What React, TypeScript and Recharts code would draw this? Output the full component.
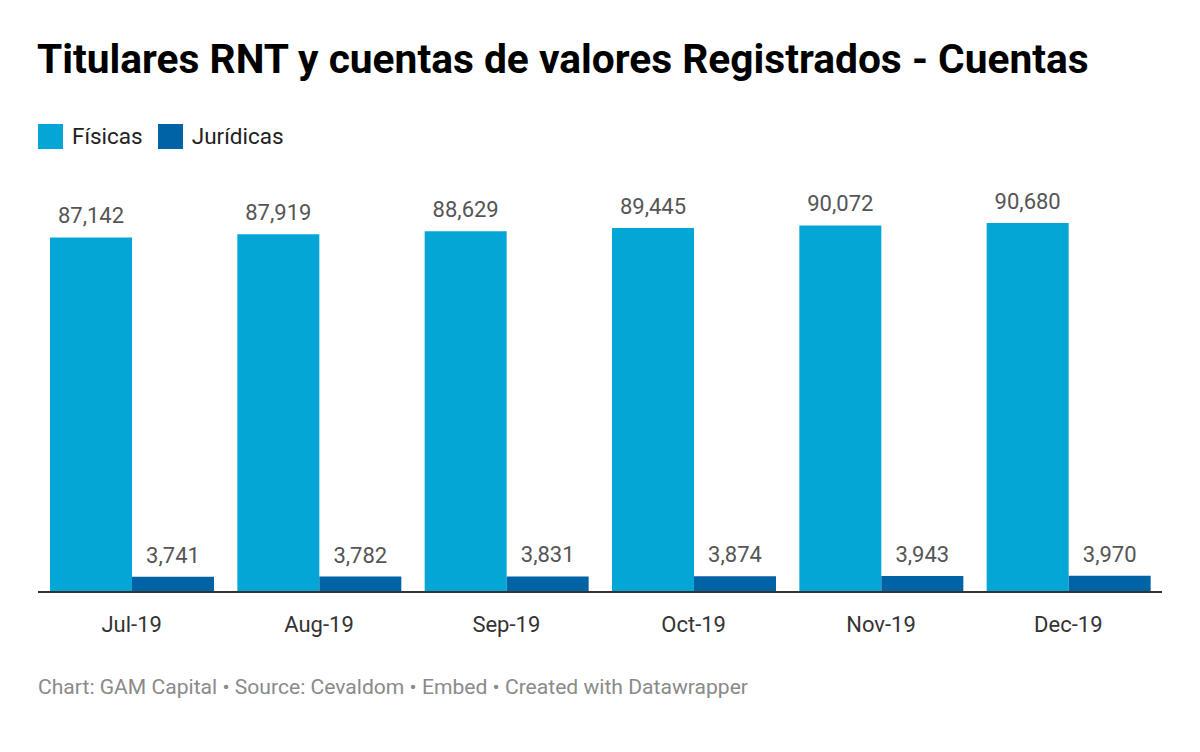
import React from 'react'
import { BarChart, Bar, XAxis, YAxis, LabelList } from 'recharts'

const months = ['Jul-19', 'Aug-19', 'Sep-19', 'Oct-19', 'Nov-19', 'Dec-19']
const fisicas = [87142, 87919, 88629, 89445, 90072, 90680]
const juridicas = [3741, 3782, 3831, 3874, 3943, 3970]

const FIS_COLOR = '#04a6d5'
const JUR_COLOR = '#0063a6'

const data = months.map((m, i) => ({ month: m, fisicas: fisicas[i], juridicas: juridicas[i] }))

const fmt = (v: number) => v.toLocaleString('en-US')

export default function App() {
  return (
    <div style={{ position: 'absolute', left: 0, top: 0, width: 1200, height: 752, background: '#fff', fontFamily: 'Roboto, sans-serif' }}>
      <div style={{ position: 'absolute', left: 37, top: 34, fontSize: 40.7, fontWeight: 700, color: '#000', lineHeight: '50px', whiteSpace: 'nowrap' }}>
        Titulares RNT y cuentas de valores Registrados - Cuentas
      </div>
      <div style={{ position: 'absolute', left: 38, top: 124, display: 'flex', alignItems: 'center', fontSize: 22.5, color: '#222', lineHeight: '25px' }}>
        <span style={{ width: 25, height: 25, background: FIS_COLOR, display: 'inline-block' }} />
        <span style={{ marginLeft: 9 }}>Físicas</span>
        <span style={{ width: 25, height: 25, background: JUR_COLOR, display: 'inline-block', marginLeft: 15 }} />
        <span style={{ marginLeft: 9 }}>Jurídicas</span>
      </div>
      <div style={{ position: 'absolute', left: 0, top: 0 }}>
        <BarChart width={1200} height={752} data={data} margin={{ top: 223, right: 38, bottom: 100, left: 38 }} barCategoryGap={12} barGap={0}>
          <XAxis dataKey="month" axisLine={{ stroke: '#333', strokeWidth: 2 }} tickLine={false} height={60}
            tick={{ fill: '#333', fontSize: 22, fontFamily: 'Roboto' }} tickMargin={18} />
          <YAxis hide domain={[0, 90680]} />
          <Bar dataKey="fisicas" fill={FIS_COLOR} isAnimationActive={false}>
            <LabelList dataKey="fisicas" position="top" offset={14} formatter={fmt as any} fill="#555" fontSize={22} fontFamily="Roboto" />
          </Bar>
          <Bar dataKey="juridicas" fill={JUR_COLOR} isAnimationActive={false}>
            <LabelList dataKey="juridicas" position="top" offset={14} formatter={fmt as any} fill="#555" fontSize={22} fontFamily="Roboto" />
          </Bar>
        </BarChart>
      </div>
      <div style={{ position: 'absolute', left: 38, top: 674, fontSize: 21.1, color: '#8a8a8a', whiteSpace: 'nowrap' }}>
        Chart: GAM Capital • Source: Cevaldom • Embed • Created with Datawrapper
      </div>
    </div>
  )
}
